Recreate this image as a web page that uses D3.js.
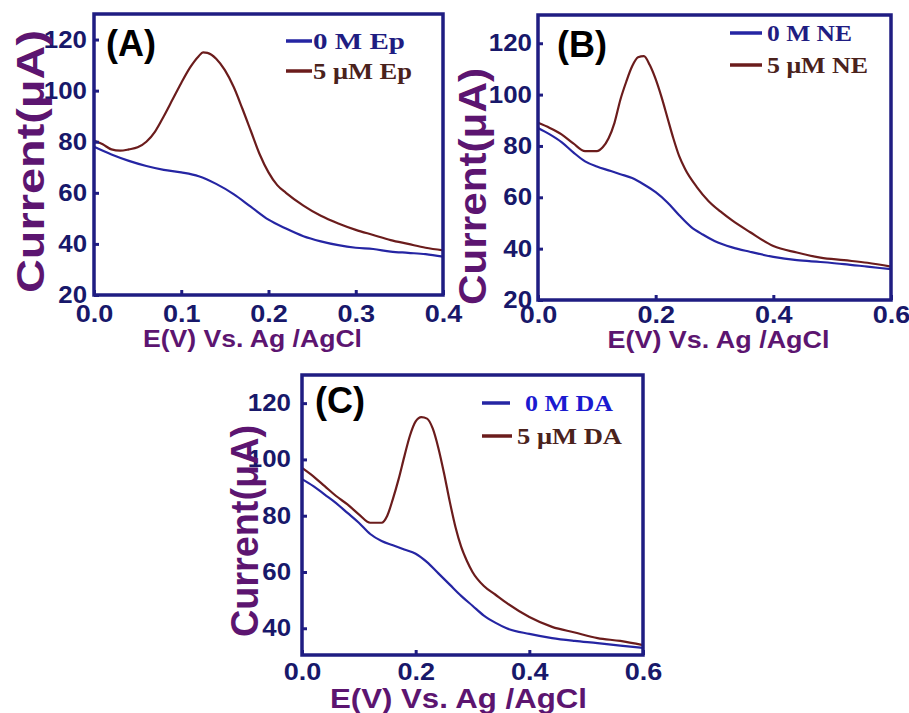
<!DOCTYPE html>
<html>
<head>
<meta charset="utf-8">
<script src="https://cdn.jsdelivr.net/npm/d3@7"></script>
<style>
  body { margin: 0; background: #fff; }
  svg { display: block; }
</style>
</head>
<body>
<svg id="chart" width="909" height="713"></svg>
<script>
// ---- data: [potential (V), current (uA)] ----
const epBlank = [[0,78],[0.02,75],[0.04,72.5],[0.06,70.5],[0.08,69],[0.10,68],[0.12,66.5],[0.14,63.5],[0.16,59.5],[0.18,54.5],[0.20,49.5],[0.22,46],[0.24,43],[0.26,41],[0.28,39.5],[0.30,38.5],[0.32,38],[0.34,37],[0.36,36.5],[0.38,36],[0.40,35]];
const epPeak = [[0,80.5],[0.01,79],[0.02,77],[0.03,76.5],[0.04,77],[0.05,77.8],[0.06,80],[0.07,84],[0.08,90],[0.09,96.5],[0.10,103],[0.11,109],[0.12,113.5],[0.125,115],[0.13,114.8],[0.14,112.5],[0.15,108],[0.16,101.5],[0.17,93],[0.18,84],[0.19,75],[0.20,68],[0.21,63],[0.22,60],[0.24,55],[0.26,51],[0.28,48],[0.30,45.5],[0.32,43.5],[0.34,41.5],[0.36,40],[0.38,38.5],[0.40,37.5]];

const neBlank = [[0,87],[0.02,84.5],[0.04,81.5],[0.06,77.5],[0.08,74],[0.10,72],[0.12,70.5],[0.14,69],[0.16,67.5],[0.18,65],[0.20,62],[0.22,58],[0.24,53],[0.26,48.5],[0.28,45.5],[0.30,43],[0.33,40.5],[0.36,38.8],[0.40,36.8],[0.44,35.5],[0.48,34.8],[0.52,34],[0.56,33],[0.60,32]];
const nePeak = [[0,89],[0.02,87],[0.04,84.5],[0.06,81],[0.08,78],[0.10,78],[0.11,79.5],[0.12,83],[0.13,89],[0.14,98],[0.15,105],[0.16,111],[0.17,114.5],[0.18,115],[0.19,111.5],[0.20,106],[0.21,99],[0.22,91],[0.23,83],[0.24,76],[0.25,71],[0.27,64],[0.29,58.5],[0.31,54.5],[0.33,51],[0.36,46.5],[0.40,41],[0.44,38.5],[0.48,36.5],[0.52,35.5],[0.56,34.5],[0.60,33]];

const daBlank = [[0,93],[0.02,90.5],[0.04,87.5],[0.06,84.5],[0.08,81],[0.10,77.5],[0.12,73.5],[0.14,71],[0.16,69.5],[0.18,68],[0.20,66.5],[0.22,63.5],[0.24,59.5],[0.26,55.5],[0.28,51.5],[0.30,48],[0.32,44.5],[0.34,42],[0.36,40],[0.40,38],[0.44,36.5],[0.48,35.5],[0.52,34.7],[0.56,33.8],[0.60,33]];
const daPeak = [[0,97],[0.02,94],[0.04,90.5],[0.06,87],[0.08,84],[0.10,80.5],[0.12,77.5],[0.14,77.5],[0.15,80],[0.16,86],[0.17,93],[0.18,101],[0.19,108.5],[0.20,113.5],[0.21,115],[0.22,114.5],[0.23,111],[0.24,104],[0.25,95],[0.26,85],[0.27,76],[0.28,69],[0.29,64],[0.30,60],[0.32,55],[0.34,52],[0.36,49],[0.40,44],[0.44,40.5],[0.48,38.5],[0.52,36.5],[0.56,35.5],[0.60,34]];

const legendEp = ["0 M Ep", "5 μM Ep"];
const legendNE = ["0 M NE", "5 μM NE"];
const legendDA = ["0 M DA", "5 μM DA"];
const panelTags = ["(A)", "(B)", "(C)"];
const ticksX4 = [0, 0.1, 0.2, 0.3, 0.4];
const ticksX6 = [0, 0.2, 0.4, 0.6];
const ticksYab = [20, 40, 60, 80, 100, 120];
const ticksYc = [40, 60, 80, 100, 120];
const xTitle = "E(V) Vs. Ag /AgCl";
const yTitle = "Current(μA)";

const navy = "#1f1d82", tickText = "#18186a", purple = "#5c1570";
const blue = "#2525a3", brown = "#6b1c1c";

const svg = d3.select("#chart");

// stretch text horizontally, the figure was scaled wider than tall
function stretch(sel, k) {
  sel.each(function() {
    const w = this.getComputedTextLength();
    d3.select(this).attr("textLength", w * k).attr("lengthAdjust", "spacingAndGlyphs");
  });
}

function drawPanel(p) {
  const x = d3.scaleLinear().domain(p.xDomain).range([p.left, p.right]);
  const y = d3.scaleLinear().domain(p.yDomain).range([p.bottom, p.top]);
  const g = svg.append("g");

  const line = d3.line().x(d => x(d[0])).y(d => y(d[1])).curve(d3.curveMonotoneX);
  g.append("path").datum(p.blank).attr("d", line)
    .attr("fill", "none").attr("stroke", blue).attr("stroke-width", 2.2);
  g.append("path").datum(p.peak).attr("d", line)
    .attr("fill", "none").attr("stroke", brown).attr("stroke-width", 2.2);

  const xa = g.append("g").attr("transform", `translate(0,${p.bottom})`)
    .call(d3.axisBottom(x).tickValues(p.xTicks).tickFormat(d3.format(".1f"))
      .tickSizeInner(-5).tickSizeOuter(0).tickPadding(p.xPad));
  const ya = g.append("g").attr("transform", `translate(${p.left},0)`)
    .call(d3.axisLeft(y).tickValues(p.yTicks).tickFormat(d3.format("d"))
      .tickSizeInner(-5).tickSizeOuter(0).tickPadding(p.yPad));
  [xa, ya].forEach(a => {
    a.select(".domain").remove();
    a.selectAll("line").attr("stroke", navy).attr("stroke-width", 3);
    a.selectAll("text").attr("fill", tickText)
      .style("font-family", "'Liberation Sans', Arial, sans-serif")
      .style("font-weight", "bold").style("font-size", "23.5px");
  });
  stretch(xa.selectAll("text"), 1.15);
  stretch(ya.selectAll("text"), 1.1);

  g.append("rect").attr("x", p.left).attr("y", p.top)
    .attr("width", p.right - p.left).attr("height", p.bottom - p.top)
    .attr("fill", "none").attr("stroke", navy).attr("stroke-width", 3.5);

  // panel tag
  g.append("text").attr("x", p.tagX).attr("y", p.tagY).text(p.tag)
    .style("font-family", "'Liberation Sans', Arial, sans-serif")
    .style("font-weight", "bold").style("font-size", "36px").attr("fill", "#000");

  // legend
  p.legend.forEach((lab, i) => {
    const ly = p.legY[i];
    g.append("line").attr("x1", p.legX1).attr("x2", p.legX2[i])
      .attr("y1", ly).attr("y2", ly)
      .attr("stroke", i === 0 ? blue : brown).attr("stroke-width", 3.5);
    g.append("text").attr("x", p.legTx[i]).attr("y", ly + 8).text(lab)
      .attr("textLength", p.legW[i]).attr("lengthAdjust", "spacingAndGlyphs")
      .attr("fill", i === 0 ? p.leg0Color : "#4a221c")
      .style("font-family", "'Liberation Serif', 'Times New Roman', serif")
      .style("font-weight", "bold").style("font-size", "24px");
  });

  // axis titles
  const cx = (p.left + p.right) / 2 + p.xtShift;
  g.append("text").attr("x", cx - p.xtW / 2).attr("y", p.xtY).text(xTitle)
    .attr("textLength", p.xtW).attr("lengthAdjust", "spacingAndGlyphs")
    .attr("fill", purple)
    .style("font-family", "'Liberation Sans', Arial, sans-serif")
    .style("font-weight", "bold").style("font-size", p.xtSize + "px");
  g.append("text").attr("transform", `translate(${p.ytX},${p.ytY}) rotate(-90)`)
    .text(yTitle)
    .attr("textLength", p.ytW).attr("lengthAdjust", "spacingAndGlyphs")
    .attr("fill", purple)
    .style("font-family", "'Liberation Sans', Arial, sans-serif")
    .style("font-weight", "bold").style("font-size", p.ytSize + "px");
}

drawPanel({
  left: 94, right: 443, top: 14, bottom: 295,
  xDomain: [0, 0.4], yDomain: [20, 130], xTicks: ticksX4, yTicks: ticksYab,
  xPad: 10, yPad: 7, blank: epBlank, peak: epPeak,
  tag: panelTags[0], tagX: 106, tagY: 56,
  legend: legendEp, legX1: 286, legX2: [312, 312], legY: [41, 71], legTx: [313, 313], legW: [92, 99],
  leg0Color: "#1f1d82",
  xtW: 219, xtY: 347, xtSize: 24, xtShift: -16,
  ytX: 44, ytY: 293, ytW: 263, ytSize: 38
});

drawPanel({
  left: 538, right: 891, top: 15, bottom: 300,
  xDomain: [0, 0.6], yDomain: [20, 131], xTicks: ticksX6, yTicks: ticksYab,
  xPad: 6, yPad: 6, blank: neBlank, peak: nePeak,
  tag: panelTags[1], tagX: 557, tagY: 57,
  legend: legendNE, legX1: 730, legX2: [762, 762], legY: [33, 65], legTx: [767, 767], legW: [85, 101],
  leg0Color: "#1f1d82",
  xtW: 222, xtY: 348, xtSize: 24, xtShift: 4,
  ytX: 486, ytY: 305, ytW: 237, ytSize: 38
});

drawPanel({
  left: 302, right: 643, top: 375, bottom: 655,
  xDomain: [0, 0.6], yDomain: [30.5, 130], xTicks: ticksX6, yTicks: ticksYc,
  xPad: 8, yPad: 11, blank: daBlank, peak: daPeak,
  tag: panelTags[2], tagX: 315, tagY: 413,
  legend: legendDA, legX1: 482, legX2: [510, 512], legY: [403, 436], legTx: [525, 517], legW: [88, 105],
  leg0Color: "#1a1ad0",
  xtW: 257, xtY: 708, xtSize: 27, xtShift: -14,
  ytX: 258, ytY: 637, ytW: 212, ytSize: 38
});
</script>
</body>
</html>
